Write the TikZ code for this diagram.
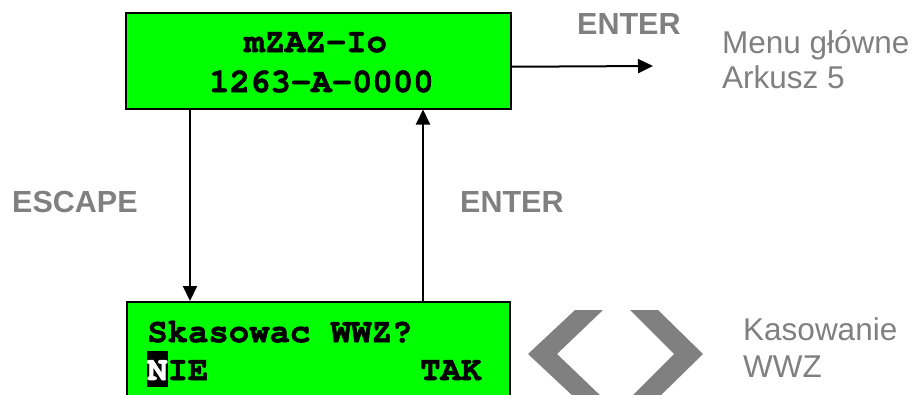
\documentclass[tikz,border=0pt]{standalone}
\usepackage{fontspec}
\setmainfont{Liberation Sans}
\newfontfamily\lcdfont{texgyrecursor}[Extension=.otf, UprightFont=*-regular, BoldFont=*-bold, BoldFeatures={FakeBold=1.6}]
\usetikzlibrary{arrows.meta, positioning, calc}

\definecolor{lcdgreen}{HTML}{00FF00}
\definecolor{labelgray}{HTML}{808080}

\begin{document}
\begin{tikzpicture}[
    x=1pt, y=-1pt,
    >={Triangle[length=15pt, width=14pt]}, % solid black heads
    lcdbox/.style={draw=black, line width=1.5pt, fill=lcdgreen, anchor=north west, inner sep=0pt},
    lcd/.style={font=\lcdfont\bfseries\fontsize{34}{40}\selectfont, anchor=base west, inner sep=0pt},
    key/.style={font=\bfseries\fontsize{30.5}{36}\selectfont, text=labelgray, anchor=base west, inner sep=0pt},
    note/.style={font=\fontsize{31.5}{36}\selectfont, text=labelgray, anchor=base west, inner sep=0pt},
    flow/.style={->, line width=2pt},
    chevron/.style={fill=labelgray, draw=none}
]
    \useasboundingbox (0,0) rectangle (912,394);

    % === LCD screens ===
    \node[lcdbox, minimum width=385pt, minimum height=96pt] (main) at (125,12) {};
    \node[lcdbox, minimum width=383pt, minimum height=96pt] (reset) at (126,301) {};

    % === Screen texts ===
    \node[lcd] (title) at (244,52) {mZAZ-Io};
    \node[lcd] (serial) at (209,92) {1263-A-0000};
    \node[lcd] (question) at (147,342) {Skasowac WWZ?};
    \fill[black] (147,351) rectangle (168,387); % cursor on N
    \node[lcd] (no) at (147,380) {\textcolor{white}{N}IE};
    \node[lcd] (yes) at (420,380) {TAK};

    % === Key labels and notes ===
    \node[key] (escape) at (12,212) {ESCAPE};
    \node[key] (enter back) at (460,212) {ENTER};
    \node[key] (enter menu) at (577,34) {ENTER};
    \node[note] (menu1) at (722,53) {Menu główne};
    \node[note] (menu2) at (722,88) {Arkusz 5};
    \node[note] (wwz1) at (743,340) {Kasowanie};
    \node[note] (wwz2) at (743,377) {WWZ};

    % === Arrows ===
    \coordinate (menu target) at (653,66);
    \draw[flow] ([xshift=65pt]main.south west) -- ([xshift=64pt]reset.north west);
    \draw[flow] ([xshift=297pt]reset.north west) -- ([xshift=298pt]main.south west);
    \draw[flow] ([yshift=-6pt]main.east) -- (menu target);

    % === Left / right keys ===
    \draw[chevron] (575,310) -- (603,310) -- (557,354) -- (603,398)
        -- (575,398) -- (528,354) -- cycle;
    \draw[chevron] (630,310) -- (658,310) -- (703,354) -- (658,398)
        -- (630,398) -- (674,354) -- cycle;

\end{tikzpicture}
\end{document}
